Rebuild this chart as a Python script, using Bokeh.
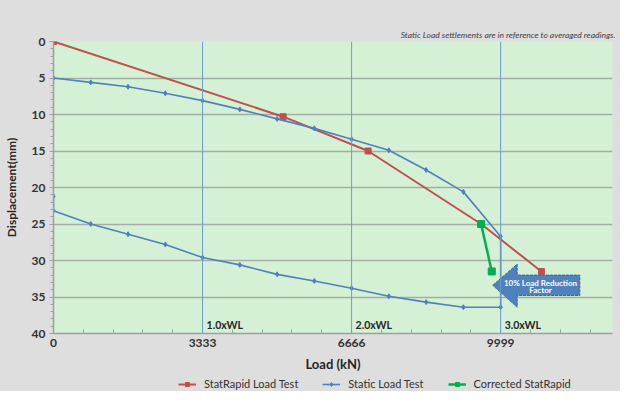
from bokeh.plotting import figure
from bokeh.layouts import column
from bokeh.models import (Range1d, FixedTicker, Span, Label, Legend, LegendItem, Title)
from bokeh.embed import file_html
from bokeh.resources import INLINE

# ---- data ----
statrapid_load = [0, 5135, 7035, 9562, 10910]
statrapid_disp = [0, 10.3, 15.0, 25.0, 31.5]

static_load = [0, 833, 1667, 2500, 3333, 4166, 5000, 5833, 6666, 7499, 8333, 9166, 9999,
               9999, 9166, 8333, 7499, 6666, 5833, 5000, 4166, 3333, 2500, 1667, 833, 0, 0]
static_disp = [5.0, 5.6, 6.2, 7.1, 8.1, 9.3, 10.6, 11.9, 13.4, 14.9, 17.6, 20.6, 26.7,
               36.4, 36.4, 35.7, 34.9, 33.8, 32.8, 31.9, 30.6, 29.6, 27.8, 26.4, 25.0, 23.2, 21.2]

corrected_load = [9562, 9800]
corrected_disp = [25.0, 31.5]

wl_loads = [3333, 6666, 9999]
wl_labels = ["1.0xWL", "2.0xWL", "3.0xWL"]

y_ticks = [0, 5, 10, 15, 20, 25, 30, 35, 40]
x_ticks = [0, 3333, 6666, 9999]

series_names = ["StatRapid Load Test", "Static Load Test", "Corrected StatRapid"]

FONT = "Lato"
RED = "#c0504d"
BLUE = "#4f81bd"
GREEN = "#00b050"
GRAY_BG = "#dedede"

p = figure(frame_width=559, frame_height=292, output_backend="svg", toolbar_location=None,
           x_range=Range1d(0, 12500), y_range=Range1d(40, 0),
           min_border_left=45, min_border_right=8, min_border_top=41, min_border_bottom=39)
p.background_fill_color = "#d4f0d5"
p.border_fill_color = GRAY_BG
p.outline_line_color = None

# title note
t = Title(text="Static Load settlements are in reference to averaged readings.",
          align="right", text_font=FONT, text_font_style="italic", text_font_size="8.5px",
          text_color="#404040", standoff=3, offset=-3)
p.add_layout(t, "above")

# axes
p.yaxis.ticker = FixedTicker(ticks=y_ticks, minor_ticks=list(range(0, 41)))
p.ygrid.ticker = FixedTicker(ticks=y_ticks)
p.ygrid.grid_line_color = "#a4aea4"
p.ygrid.grid_line_width = 1.5
p.xgrid.grid_line_color = None

p.xaxis.ticker = FixedTicker(ticks=x_ticks, minor_ticks=[666.6 * k for k in range(19)])
for ax in (p.xaxis[0], p.yaxis[0]):
    ax.axis_line_color = "#a0a0a0"
    ax.axis_line_width = 1.5
    ax.major_tick_line_color = "#a0a0a0"
    ax.minor_tick_line_color = "#a0a0a0"
    ax.major_label_text_font = FONT
    ax.major_label_text_font_style = "bold"
    ax.major_label_text_font_size = "12px"
    ax.major_label_text_color = "#333333"
    ax.axis_label_text_font = FONT
    ax.axis_label_text_font_style = "bold"
    ax.axis_label_text_color = "#262626"

p.xaxis.major_tick_in = 4
p.xaxis.major_tick_out = 0
p.xaxis.minor_tick_in = 4
p.xaxis.minor_tick_out = 0
p.xaxis.major_label_standoff = 5
p.xaxis.axis_label = "Load (kN)"
p.xaxis.axis_label_text_font_size = "13px"
p.xaxis.axis_label_standoff = 6

p.yaxis.major_tick_in = 0
p.yaxis.major_tick_out = 4
p.yaxis.minor_tick_in = 0
p.yaxis.minor_tick_out = 3
p.yaxis.major_label_standoff = 4
p.yaxis.axis_label = "Displacement(mm)"
p.yaxis.axis_label_text_font_size = "12px"
p.yaxis.axis_label_standoff = 10

# WL vertical lines + labels
for xv, lab in zip(wl_loads, wl_labels):
    p.add_layout(Span(location=xv, dimension="height", line_color="#6f9bd0", line_width=1))
    p.add_layout(Label(x=xv, y=40, text=lab, text_font=FONT, text_font_style="bold",
                       text_font_size="10.5px", text_color="#262626",
                       x_offset=4, y_offset=3, text_baseline="bottom"))

# series
p.line(statrapid_load, statrapid_disp, line_color=RED, line_width=2)
p.scatter(statrapid_load, statrapid_disp, marker="square", size=6,
          fill_color=RED, line_color=RED)

p.line(static_load, static_disp, line_color=BLUE, line_width=1.6)
p.scatter(static_load, static_disp, marker="diamond", size=5,
          fill_color=BLUE, line_color=BLUE)

p.line(corrected_load, corrected_disp, line_color=GREEN, line_width=2.5)
p.scatter(corrected_load, corrected_disp, marker="square", size=7,
          fill_color=GREEN, line_color=GREEN)

# block arrow annotation
arrow_x = [9823, 10369, 10369, 11769, 11769, 10369, 10369]
arrow_y = [33.4, 30.5, 32.0, 32.0, 34.8, 34.8, 36.4]
p.patch(arrow_x, arrow_y, fill_color="#4f81bd", line_color="#3a679e", line_width=1,
        line_dash="3 1")
p.add_layout(Label(x=10890, y=33.15, text="10% Load Reduction", text_font=FONT,
                   text_font_style="bold", text_font_size="8px", text_color="white",
                   text_align="center", text_baseline="middle"))
p.add_layout(Label(x=10890, y=34.1, text="Factor", text_font=FONT,
                   text_font_style="bold", text_font_size="8px", text_color="white",
                   text_align="center", text_baseline="middle"))

# ---- legend strip (separate figure below the axis title) ----
leg = figure(width=612, height=17, output_backend="svg", toolbar_location=None,
             x_range=Range1d(-20000, -10000), y_range=Range1d(-100, -50), min_border=0)
leg.axis.visible = False
leg.grid.visible = False
leg.outline_line_color = None
leg.background_fill_color = GRAY_BG
leg.border_fill_color = GRAY_BG
items = []
for name, col, mk, sz, lw, xs, ys in zip(
        series_names, [RED, BLUE, GREEN], ["square", "diamond", "square"], [6, 5, 7],
        [2, 1.6, 2.5], [statrapid_load, static_load, corrected_load],
        [statrapid_disp, static_disp, corrected_disp]):
    rl = leg.line(xs, ys, line_color=col, line_width=lw)
    rm = leg.scatter(xs, ys, marker=mk, size=sz, fill_color=col, line_color=col)
    items.append(LegendItem(label=name, renderers=[rl, rm]))
legend = Legend(items=items, orientation="horizontal", location=(125, 1))
legend.background_fill_alpha = 0
legend.border_line_color = None
legend.label_text_font = FONT
legend.label_text_font_size = "11px"
legend.label_text_color = "#333333"
legend.label_height = 12
legend.glyph_width = 18
legend.glyph_height = 10
legend.spacing = 24
legend.padding = 2
legend.margin = 0
legend.label_standoff = 8
leg.add_layout(legend, "center")

layout = column(p, leg, spacing=0, styles={"background-color": GRAY_BG})
open("out.html", "w").write(file_html(layout, INLINE))
